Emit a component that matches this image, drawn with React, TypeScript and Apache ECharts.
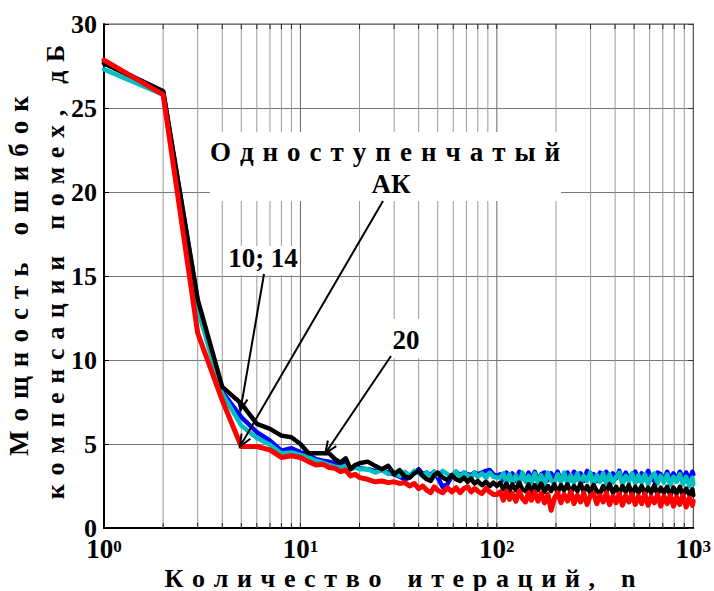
import React, { useEffect, useRef } from "react";
import * as echarts from "echarts";

const FF = "Liberation Serif, Times New Roman, serif";

// iteration numbers (shared x values)
const iterations = [
  1, 2, 3, 4, 5, 6, 7, 8, 9, 10, 11, 12, 13, 14, 15, 16, 17, 18, 19, 20,
  22, 24, 26, 28, 30, 32, 34, 36, 38, 40, 42, 44, 46, 48, 50, 53, 56, 59, 62, 65,
  68, 71, 74, 77, 80, 84, 88, 92, 96, 100,
  104, 108, 112, 116, 120, 125, 130, 135, 140, 145, 150, 156, 162, 168, 175, 182,
  189, 196, 204, 212, 220, 229, 238, 247, 257, 267, 277, 288, 299, 311, 323, 335,
  348, 361, 375, 390, 405, 420, 436, 453, 470, 488, 507, 526, 546, 567, 589, 611,
  634, 658, 683, 709, 736, 764, 793, 823, 854, 886, 920, 955, 990, 1000,
];

const blueValues = [
  27.7, 26.0, 13.5, 8.1, 6.6, 5.7, 5.2, 4.6, 4.75, 4.5, 4.35, 4.1, 4.0, 3.95, 3.85, 3.75, 3.8, 3.55, 3.7, 3.55,
  3.5, 3.4, 3.45, 3.3, 3.2, 3.05, 2.9, 3.0, 3.3, 3.5, 3.2, 3.3, 3.15, 3.35, 3.0, 2.45, 2.6, 3.1, 3.35, 3.15,
  3.3, 3.2, 3.15, 3.3, 3.2, 3.3, 3.4, 3.45, 3.2, 3.1,
  3.2, 2.85, 3.3, 2.9, 3.25, 2.8, 3.35, 3.0, 2.85, 3.3,
  2.9, 3.35, 2.8, 3.2, 3.3, 2.85, 3.25, 2.95, 3.35, 2.8,
  3.2, 3.3, 2.85, 3.35, 2.9, 3.25, 2.8, 3.4, 2.95, 3.2,
  2.8, 3.3, 2.9, 3.35, 2.85, 3.25, 2.95, 3.4, 2.8, 3.3,
  2.9, 3.2, 3.35, 2.85, 3.25, 2.9, 3.4, 2.95, 2.8, 3.3,
  3.2, 2.85, 3.35, 2.9, 3.25, 2.85, 3.35, 2.95, 3.3, 2.85, 3.35, 3.2,
];

const cyanValues = [
  27.3, 25.8, 13.0, 8.0, 6.1, 5.35, 4.95, 4.45, 4.5, 4.35, 4.2, 4.0, 3.9, 3.75, 3.65, 3.6, 3.7, 3.5, 3.6, 3.5,
  3.5, 3.3, 3.45, 3.2, 3.35, 3.1, 3.35, 3.1, 3.4, 3.25, 3.1, 3.3, 3.05, 3.35, 3.15, 3.4, 3.2, 3.1, 3.35, 3.05,
  3.3, 3.15, 3.0, 3.3, 3.05, 3.25, 3.0, 3.3, 3.05, 3.0,
  3.0, 3.25, 2.65, 3.2, 2.7, 3.15, 2.6, 3.3, 2.75, 3.1,
  2.65, 3.25, 2.7, 3.15, 2.6, 3.3, 2.85, 2.65, 3.2, 2.75,
  3.3, 2.6, 3.15, 2.7, 3.25, 2.65, 3.1, 2.8, 3.3, 2.6,
  3.15, 2.75, 3.25, 2.65, 3.2, 2.7, 3.05, 3.3, 2.6, 3.1,
  2.75, 3.25, 2.65, 3.15, 2.7, 3.2, 2.6, 3.05, 3.25, 2.65,
  3.1, 2.7, 3.2, 2.55, 3.05, 2.75, 3.2, 2.6, 3.05, 2.5, 3.0, 2.6,
];

const blackValues = [
  27.65, 26.0, 13.6, 8.4, 7.4, 6.2, 5.9, 5.5, 5.4, 5.0, 4.45, 4.45, 4.45, 4.45, 4.1, 3.9, 4.15, 3.5, 3.75, 3.85,
  3.95, 3.7, 3.5, 3.7, 3.2, 3.45, 3.05, 3.0, 3.25, 3.4, 3.1, 2.9, 2.8, 3.15, 3.3, 3.0, 2.85, 3.15, 2.9, 2.8,
  3.0, 2.75, 2.95, 2.65, 2.8, 2.55, 2.75, 2.5, 2.7, 2.5,
  2.7, 2.3, 2.65, 2.2, 2.6, 2.25, 2.7, 2.3, 2.2, 2.6,
  2.15, 2.55, 2.25, 2.65, 2.15, 2.5, 2.2, 2.6, 2.1, 2.55,
  2.25, 2.6, 2.1, 2.5, 2.2, 2.65, 2.15, 2.5, 2.1, 2.55,
  2.2, 2.05, 2.5, 2.15, 2.6, 2.1, 2.45, 2.05, 2.5, 2.15,
  2.55, 2.0, 2.45, 2.1, 2.5, 2.05, 2.4, 2.1, 2.55, 2.0,
  2.4, 2.1, 2.45, 1.95, 2.4, 2.05, 2.45, 1.95, 2.35, 2.0, 2.3, 1.95,
];

const redValues = [
  27.85, 25.8, 11.6, 7.6, 4.85, 4.85, 4.65, 4.2, 4.3, 4.2, 3.95, 3.75, 3.8, 3.6, 3.55, 3.35, 3.45, 3.1, 3.2, 3.0,
  2.9, 2.75, 2.8, 2.7, 2.75, 2.65, 2.7, 2.5, 2.65, 2.35, 2.5, 2.25, 2.1, 2.45, 2.25, 2.1, 2.4, 2.15, 2.4, 2.1,
  2.35, 2.45, 2.15, 2.35, 2.2, 2.05, 2.35, 2.15, 2.0, 2.0,
  2.15, 1.65, 2.2, 1.7, 2.05, 1.6, 2.2, 1.75, 1.55, 2.1,
  1.65, 2.15, 1.6, 2.05, 1.5, 2.0, 1.05, 1.75, 2.1, 1.5,
  2.0, 1.6, 2.15, 1.45, 1.95, 1.55, 2.1, 1.4, 1.9, 2.05,
  1.45, 1.95, 1.55, 2.1, 1.4, 1.9, 1.5, 2.05, 1.35, 1.95,
  1.55, 2.0, 1.4, 1.9, 1.45, 2.05, 1.35, 1.85, 1.5, 2.0,
  1.3, 1.9, 1.45, 1.95, 1.3, 1.85, 1.4, 1.95, 1.25, 1.8, 1.35, 1.6,
];

// vertical log grid positions
const logGridX = [2, 3, 4, 5, 6, 7, 8, 9, 10, 20, 30, 40, 50, 60, 70, 80, 90, 100, 200, 300, 400, 500, 600, 700, 800, 900];

// spaced-out lettering, as in the reference
const SP = "\u2004";
const spaced = (s: string) => s.split(" ").map((w) => Array.from(w).join(SP)).join(SP + SP + SP);

const yTitle1 = spaced("Мощность ошибок");
const yTitle2 = spaced("компенсации помех, дБ");
const xTitle = spaced("Количество итераций, n");
const label1a = spaced("Одноступенчатый");
const label1b = "АК";
const label2 = "10; 14";
const label3 = "20";

export default function App() {
  const ref = useRef<HTMLDivElement>(null);
  useEffect(() => {
    const el = ref.current as HTMLDivElement;
    const chart = echarts.init(el, null, { renderer: "svg" });
    const pair = (ys: number[]) => iterations.map((x, i) => [x, ys[i]]);
    const lineSeries = (name: string, ys: number[], color: string, width: number) => ({
      type: "line",
      name,
      data: pair(ys),
      showSymbol: false,
      symbol: "none",
      silent: true,
      lineStyle: { color, width, join: "round", cap: "round" },
      itemStyle: { color },
      z: 3,
    });

    chart.setOption({
      animation: false,
      backgroundColor: "#fff",
      textStyle: { fontFamily: FF },
      grid: { left: 104, right: 17, top: 24, bottom: 63, show: true, borderColor: "#555", borderWidth: 1, backgroundColor: "transparent" },
      xAxis: {
        type: "log",
        logBase: 10,
        min: 1,
        max: 1000,
        axisLine: { show: true, onZero: false, lineStyle: { color: "#000", width: 2 } },
        axisTick: { show: false },
        splitLine: { show: false },
        axisLabel: {
          margin: 10,
          showMinLabel: true,
          showMaxLabel: true,
          fontFamily: FF,
          fontWeight: "bold",
          formatter: (v: number) => `{b|10}{s|${Math.round(Math.log10(v))}}`,
          rich: {
            b: { fontFamily: FF, fontWeight: "bold", fontSize: 27, color: "#000", verticalAlign: "bottom", lineHeight: 24 },
            s: { fontFamily: FF, fontWeight: "bold", fontSize: 17, color: "#000", verticalAlign: "top", lineHeight: 15 },
          },
        },
      },
      yAxis: [
        {
          type: "value",
          min: 0,
          max: 30,
          interval: 5,
          position: "left",
          axisLine: { show: true, lineStyle: { color: "#000", width: 2 } },
          axisTick: { show: true, inside: true, length: 5, lineStyle: { color: "#000" } },
          axisLabel: { fontFamily: FF, fontWeight: "bold", fontSize: 26, lineHeight: 16, color: "#000", margin: 7 },
          splitLine: { show: true, lineStyle: { color: "#7a7a7a", width: 1 } },
        },
        {
          type: "value",
          min: 0,
          max: 30,
          interval: 5,
          position: "right",
          axisLine: { show: true, lineStyle: { color: "#555", width: 1 } },
          axisTick: { show: true, inside: true, length: 5, lineStyle: { color: "#333" } },
          axisLabel: { show: false },
          splitLine: { show: false },
        },
      ],
      series: [
        {
          type: "custom",
          silent: true,
          z: 1,
          data: logGridX.map((v) => [v, 0]),
          renderItem: (_p: any, api: any) => {
            const x = api.value(0);
            const top = api.coord([x, 30]);
            const bot = api.coord([x, 0]);
            const major = x === 10 || x === 100;
            return {
              type: "group",
              children: [
                { type: "line", shape: { x1: top[0], y1: top[1], x2: bot[0], y2: bot[1] }, style: { stroke: major ? "#666" : "#999", lineWidth: 1 } },
                { type: "line", shape: { x1: top[0], y1: top[1], x2: top[0], y2: top[1] + 5 }, style: { stroke: "#222", lineWidth: 1 } },
                { type: "line", shape: { x1: bot[0], y1: bot[1], x2: bot[0], y2: bot[1] - 5 }, style: { stroke: "#222", lineWidth: 1 } },
              ],
            };
          },
        },
        lineSeries("blue", blueValues, "#0000ff", 4.5),
        lineSeries("cyan", cyanValues, "#00bfbf", 4.5),
        lineSeries("black", blackValues, "#000000", 4.5),
        lineSeries("red", redValues, "#ff0000", 5),
      ],
    });

    const toPx = (p: number[]) => chart.convertToPixel({ seriesIndex: 1 }, p) as number[];
    const arrow = (s: number[], t: number[]) => {
      const dx = t[0] - s[0];
      const dy = t[1] - s[1];
      const len = Math.hypot(dx, dy);
      const ux = dx / len;
      const uy = dy / len;
      const L = 13;
      const pt = (a: number) => [
        t[0] - L * (ux * Math.cos(a) - uy * Math.sin(a)),
        t[1] - L * (uy * Math.cos(a) + ux * Math.sin(a)),
      ];
      return [
        { type: "line", z: 120, silent: true, shape: { x1: s[0], y1: s[1], x2: t[0], y2: t[1] }, style: { stroke: "#000", lineWidth: 2 } },
        { type: "polyline", z: 120, silent: true, shape: { points: [pt(0.4), t, pt(-0.4)] }, style: { stroke: "#000", lineWidth: 2, fill: null } },
      ];
    };
    const txt = (text: string, x: number, y: number, size: number, rotation = 0) => ({
      type: "text",
      x,
      y,
      rotation,
      z: 130,
      silent: true,
      style: { text, fontFamily: FF, fontWeight: "bold", fontSize: size, lineHeight: size - 2, fill: "#000", align: "center", verticalAlign: "middle" },
    });
    const box = (x: number, y: number, w: number, h: number) => ({
      type: "rect",
      z: 100,
      silent: true,
      shape: { x, y, width: w, height: h },
      style: { fill: "#fff" },
    });

    chart.setOption({
      graphic: [
        box(210, 132, 351, 69),
        box(223, 246, 77, 29),
        box(384, 319, 46, 39),
        txt(label1a, 385, 152, 27),
        txt(label1b, 391, 184, 27),
        txt(label2, 263, 258, 27),
        txt(label3, 406, 340, 27),
        ...arrow([264, 274], toPx([4.95, 7.0])),
        ...arrow([383, 201], toPx([4.92, 4.85])),
        ...arrow([391, 356], toPx([13.4, 4.45])),
        txt(yTitle1, 19, 276, 27, Math.PI / 2),
        txt(yTitle2, 55, 272, 26, Math.PI / 2),
        txt(xTitle, 400, 578, 26),
      ],
    });

    return () => chart.dispose();
  }, []);
  return <div ref={ref} style={{ position: "fixed", left: 0, top: 0, width: 714, height: 591, background: "#fff" }} />;
}
